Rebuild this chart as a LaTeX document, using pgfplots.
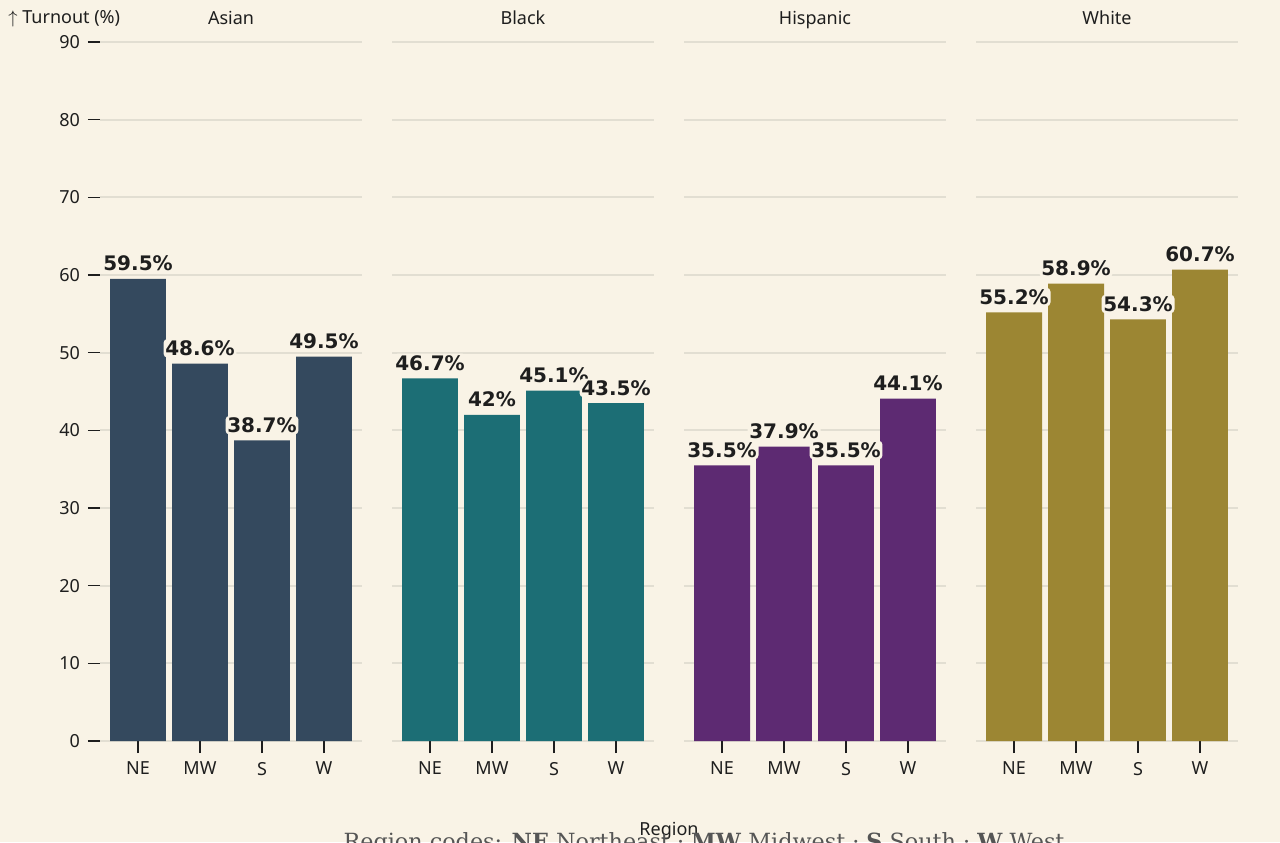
\documentclass[border=0pt]{standalone}
\usepackage{pgfplots}
\pgfplotsset{compat=1.18}
\usepackage{fontspec}
\setmainfont{Noto Sans}
\newfontfamily\labelfont{DejaVu Sans}
\newfontfamily\capfont{DejaVu Serif}
\definecolor{bg}{HTML}{F9F3E6}
\definecolor{gridc}{HTML}{E2DED2}
\definecolor{txt}{HTML}{1E1E1E}
\definecolor{asian}{HTML}{34495E}
\definecolor{black}{HTML}{1C6E75}
\definecolor{hisp}{HTML}{5D2A72}
\definecolor{white}{HTML}{9C8633}
\definecolor{capc}{HTML}{555555}
\pgfplotsset{panel/.style={
  scale only axis, width=131pt, height=349.5pt,
  xmin=-0.613, xmax=3.613, ymin=0, ymax=90,
  ybar, bar width=0.903,
  /pgf/number format/assume math mode=true,
  axis line style={draw=none},
  ymajorgrids, grid style={color=gridc, line width=0.9pt},
  ytick={0,10,...,90},
  xtick={0,1,2,3}, xticklabels={NE,MW,S,W},
  tick align=outside, tick pos=left,
  major tick length=6pt,
  tick style={color=txt, line width=0.8pt},
  ticklabel style={font=\fontsize{9}{11}\selectfont, text=txt},
  yticklabel style={xshift=-0.5pt},
  xticklabel style={yshift=-1pt},
  nodes near coords={\pgfmathprintnumber{\pgfplotspointmeta}\%},
  nodes near coords style={font=\labelfont\bfseries\fontsize{10}{12}\selectfont, anchor=base, yshift=4pt, inner sep=0.9pt, fill=bg, rounded corners=2pt, text=txt},
  title style={font=\fontsize{9}{11}\selectfont, text=txt, at={(0.5,1)}, anchor=base, yshift=3pt, inner sep=0pt},
}}
\begin{document}
\begin{tikzpicture}
\clip (-50pt,-50.5pt) rectangle (590pt,370.5pt);
\fill[bg] (-50pt,-50.5pt) rectangle (590pt,370.5pt);
\begin{axis}[panel, at={(0pt,0pt)}, anchor=south west, title={Asian}]
\addplot[fill=asian, draw=none] coordinates {(0,59.5) (1,48.6) (2,38.7) (3,49.5)};
\end{axis}
\begin{axis}[panel, at={(146pt,0pt)}, anchor=south west, title={Black}, yticklabels={}, ytick style={draw=none}]
\addplot[fill=black, draw=none] coordinates {(0,46.7) (1,42) (2,45.1) (3,43.5)};
\end{axis}
\begin{axis}[panel, at={(292pt,0pt)}, anchor=south west, title={Hispanic}, yticklabels={}, ytick style={draw=none}]
\addplot[fill=hisp, draw=none] coordinates {(0,35.5) (1,37.9) (2,35.5) (3,44.1)};
\end{axis}
\begin{axis}[panel, at={(438pt,0pt)}, anchor=south west, title={White}, yticklabels={}, ytick style={draw=none}]
\addplot[fill=white, draw=none] coordinates {(0,55.2) (1,58.9) (2,54.3) (3,60.7)};
\end{axis}
\node[anchor=base west, text=txt, font=\fontsize{9}{11}\selectfont, inner sep=0pt] at (-46pt,358.5pt) {$\uparrow$ Turnout (\%)};
\node[anchor=base, text=txt, font=\fontsize{9}{11}\selectfont, inner sep=0pt] at (284.5pt,-47pt) {Region};
\node[anchor=base, text=capc, font=\capfont\fontsize{11.15}{13}\selectfont, inner sep=0pt] at (302pt,-54pt) {Region codes: \textbf{NE} Northeast · \textbf{MW} Midwest · \textbf{S} South · \textbf{W} West};
\end{tikzpicture}
\end{document}
